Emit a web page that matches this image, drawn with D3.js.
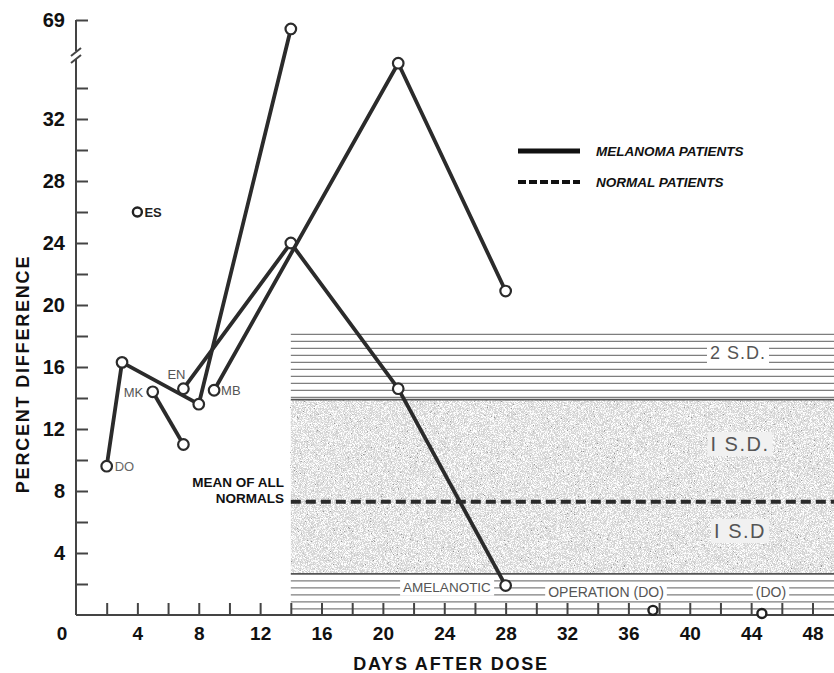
<!DOCTYPE html>
<html>
<head>
<meta charset="utf-8">
<script src="https://cdn.jsdelivr.net/npm/d3@7"></script>
<style>
  body { margin: 0; background: #fff; }
  svg { display: block; font-family: "Liberation Sans", Arial, sans-serif; }
  .axis line, .axis path { stroke: #444; stroke-width: 2; }
</style>
</head>
<body>
<svg id="chart" width="834" height="673"></svg>
<script>
// melanoma patients, one array pair per patient (days after dose, percent difference)
var doDays = [2, 3, 8, 14],   doValues = [9.6, 16.3, 13.6, 61];
var mkDays = [5, 7],          mkValues = [14.4, 11.0];
var enDays = [7, 14, 21, 28], enValues = [14.6, 24, 14.6, 1.9];
var mbDays = [9, 21, 28],     mbValues = [14.5, 35.6, 20.9];
// isolated observations
var singleDays = [4, 37.6, 44.7], singleValues = [26, 0.3, 0.1];

// normal patients
var normalStartDay = 14;
var normalMean = 7.3;
var oneSD = [2.65, 13.9];
var twoSD = [0, 18.1];

// ticks
var yTicks = [2,4,6,8,10,12,14,16,18,20,22,24,26,28,30,32,34,69];
var yTickLabels = [4,8,12,16,20,24,28,32,69];
var xTicks = [2,4,6,8,10,12,14,16,18,20,22,24,26,28,30,32,34,36,38,40,42,44,46,48];
var xTickLabels = [4,8,12,16,20,24,28,32,36,40,44,48];

var svg = d3.select("#chart");

// broken y scale: 0..36 linear, then compressed up to 69
var x = d3.scaleLinear().domain([0, 49.4]).range([76, 834]);
var y = d3.scaleLinear().domain([0, 36, 69]).range([615, 57, 20]);

var defs = svg.append("defs");
var f = defs.append("filter").attr("id", "speck").attr("x", 0).attr("y", 0).attr("width", 1).attr("height", 1);
f.append("feTurbulence").attr("type", "fractalNoise").attr("baseFrequency", 1.3).attr("numOctaves", 2).attr("seed", 4).attr("result", "n");
f.append("feColorMatrix").attr("in", "n").attr("type", "matrix")
  .attr("values", "0 0 0 0 0.3  0 0 0 0 0.3  0 0 0 0 0.3  14 0 0 0 -10.2").attr("result", "dark");
f.append("feColorMatrix").attr("in", "n").attr("type", "matrix")
  .attr("values", "0 0 0 0 1  0 0 0 0 1  0 0 0 0 1  -5 0 0 0 2.9").attr("result", "light");
var fm = f.append("feMerge");
fm.append("feMergeNode").attr("in", "light");
fm.append("feMergeNode").attr("in", "dark");

// ---- normal range bands ----
var bx0 = x(normalStartDay), bx1 = 834;
var band = svg.append("g");

// 2 S.D. hatch lines (decoration)
function hatch(top, bottom) {
  d3.range(top, bottom, 7).forEach(function(yy) {
    band.append("line").attr("x1", bx0).attr("x2", bx1).attr("y1", yy).attr("y2", yy)
      .attr("stroke", "#7e7e7e").attr("stroke-width", 1.3);
  });
}
hatch(y(twoSD[1]), y(oneSD[1]) - 2);
hatch(y(oneSD[0]) + 7, y(twoSD[0]) - 2);

// 1 S.D. stippled band
band.append("rect").attr("x", bx0).attr("y", y(oneSD[1])).attr("width", bx1 - bx0)
  .attr("height", y(oneSD[0]) - y(oneSD[1])).attr("fill", "#d2d2d2");
band.append("rect").attr("x", bx0).attr("y", y(oneSD[1])).attr("width", bx1 - bx0)
  .attr("height", y(oneSD[0]) - y(oneSD[1])).attr("filter", "url(#speck)");
[oneSD[0], oneSD[1]].forEach(function(v) {
  band.append("line").attr("x1", bx0).attr("x2", bx1).attr("y1", y(v)).attr("y2", y(v))
    .attr("stroke", "#555").attr("stroke-width", 1.8);
});

// band labels on white boxes
function boxLabel(txt, cx, cy, size, bg, color, spacing) {
  var t = band.append("text").attr("x", cx).attr("y", cy).attr("dy", "0.35em")
    .attr("text-anchor", "middle").attr("font-size", size).attr("fill", color)
    .attr("letter-spacing", spacing || 0).text(txt);
  var b = t.node().getBBox();
  band.insert("rect", function() { return t.node(); })
    .attr("x", b.x - 3).attr("y", b.y - 1).attr("width", b.width + 6).attr("height", b.height + 2)
    .attr("fill", bg);
}
boxLabel("2 S.D.", 738, 353, 18, "#fff", "#555", 1);
boxLabel("I S.D.", 740, 444, 20, "#f1f1f1", "#555", 1.5);
boxLabel("I S.D", 740, 531, 20, "#f1f1f1", "#555", 1.5);
boxLabel("AMELANOTIC", 447, 587, 13.5, "#fff", "#555");
boxLabel("OPERATION (DO)", 606, 592, 14, "#fff", "#555");
boxLabel("(DO)", 771, 592, 14, "#fff", "#555");

// mean of all normals
band.append("line").attr("x1", bx0).attr("x2", bx1).attr("y1", y(normalMean)).attr("y2", y(normalMean))
  .attr("stroke", "#2a2a2a").attr("stroke-width", 4).attr("stroke-dasharray", "10,5");
svg.append("text").attr("x", 284).attr("y", 487).attr("text-anchor", "end")
  .attr("font-size", 13.5).attr("font-weight", "bold").attr("fill", "#111").text("MEAN OF ALL");
svg.append("text").attr("x", 284).attr("y", 503).attr("text-anchor", "end")
  .attr("font-size", 13.5).attr("font-weight", "bold").attr("fill", "#111").text("NORMALS");

// ---- axes ----
var yAxis = svg.append("g").attr("class", "axis y").attr("transform", "translate(76,0)")
  .call(d3.axisLeft(y).tickValues(yTicks).tickSizeInner(-12).tickSizeOuter(0).tickPadding(11)
    .tickFormat(function(d) { return yTickLabels.indexOf(d) >= 0 ? d : ""; }));
yAxis.selectAll(".tick text").style("font-size", "20px").style("font-weight", "bold").style("fill", "#111");
yAxis.select(".domain").remove();
yAxis.append("line").attr("x1", 0).attr("x2", 0).attr("y1", y(0)).attr("y2", 59);
yAxis.append("line").attr("x1", 0).attr("x2", 0).attr("y1", 51).attr("y2", y(69));
yAxis.append("line").attr("x1", -5).attr("x2", 5).attr("y1", 56).attr("y2", 48).attr("stroke-width", 1.6);
yAxis.append("line").attr("x1", -5).attr("x2", 5).attr("y1", 63).attr("y2", 55).attr("stroke-width", 1.6);

var xAxis = svg.append("g").attr("class", "axis x").attr("transform", "translate(0," + y(0) + ")")
  .call(d3.axisBottom(x).tickValues(xTicks).tickSizeInner(-12).tickSizeOuter(0).tickPadding(12)
    .tickFormat(function(d) { return xTickLabels.indexOf(d) >= 0 ? d : ""; }));
xAxis.select(".domain").remove();
xAxis.append("line").attr("x1", 76).attr("x2", 834).attr("y1", 0).attr("y2", 0);
xAxis.append("text").attr("x", 62).attr("y", 12).attr("dy", "0.71em").attr("text-anchor", "middle").text("0");
xAxis.selectAll("text").style("font-size", "19px").style("font-weight", "bold").style("fill", "#111");

svg.append("text").attr("x", 451).attr("y", 670).attr("text-anchor", "middle")
  .attr("font-size", 18).attr("font-weight", "bold").attr("letter-spacing", 1.8)
  .attr("fill", "#111").text("DAYS AFTER DOSE");
svg.append("text").attr("transform", "translate(29,374) rotate(-90)").attr("text-anchor", "middle")
  .attr("font-size", 18).attr("font-weight", "bold").attr("letter-spacing", 1.8)
  .attr("fill", "#111").text("PERCENT DIFFERENCE");

// ---- melanoma patients ----
var line = d3.line().x(function(d) { return x(d[0]); }).y(function(d) { return y(d[1]); });
var patients = [
  { days: doDays, values: doValues },
  { days: mkDays, values: mkValues },
  { days: enDays, values: enValues },
  { days: mbDays, values: mbValues }
];
var g = svg.append("g");
patients.forEach(function(p) {
  var pts = p.days.map(function(d, i) { return [d, p.values[i]]; });
  g.append("path").datum(pts).attr("d", line).attr("fill", "none")
    .attr("stroke", "#2b2b2b").attr("stroke-width", 3.8).attr("stroke-linejoin", "round");
  g.selectAll(null).data(pts).enter().append("circle")
    .attr("cx", function(d) { return x(d[0]); }).attr("cy", function(d) { return y(d[1]); })
    .attr("r", 5.3).attr("fill", "#fff").attr("stroke", "#2b2b2b").attr("stroke-width", 2.2);
});
g.selectAll(null).data(singleDays).enter().append("circle")
  .attr("cx", function(d) { return x(d); }).attr("cy", function(d, i) { return y(singleValues[i]); })
  .attr("r", 4.5).attr("fill", "#fff").attr("stroke", "#222").attr("stroke-width", 2.4);

// patient initials
function tag(txt, px, py, color, weight) {
  svg.append("text").attr("x", px).attr("y", py).attr("font-size", 13)
    .attr("font-weight", weight || "normal").attr("fill", color).text(txt);
}
tag("ES", x(4) + 7, y(26) + 5, "#222", "bold");
tag("DO", x(2) + 8, y(9.6) + 5, "#666");
tag("MK", x(5) - 29, y(14.4) + 5, "#555");
tag("EN", x(7) - 16, y(14.6) - 10, "#555");
tag("MB", x(9) + 7, y(14.5) + 5, "#555");

// ---- legend ----
var leg = svg.append("g");
leg.append("line").attr("x1", 518).attr("x2", 580).attr("y1", 151).attr("y2", 151)
  .attr("stroke", "#111").attr("stroke-width", 5);
leg.append("line").attr("x1", 518).attr("x2", 580).attr("y1", 182).attr("y2", 182)
  .attr("stroke", "#111").attr("stroke-width", 4).attr("stroke-dasharray", "8,3");
leg.append("text").attr("x", 596).attr("y", 156).attr("font-size", 13.5).attr("font-style", "italic")
  .attr("font-weight", "bold").attr("fill", "#111").text("MELANOMA PATIENTS");
leg.append("text").attr("x", 596).attr("y", 187).attr("font-size", 13.5).attr("font-style", "italic")
  .attr("font-weight", "bold").attr("fill", "#111").text("NORMAL PATIENTS");
</script>
</body>
</html>
